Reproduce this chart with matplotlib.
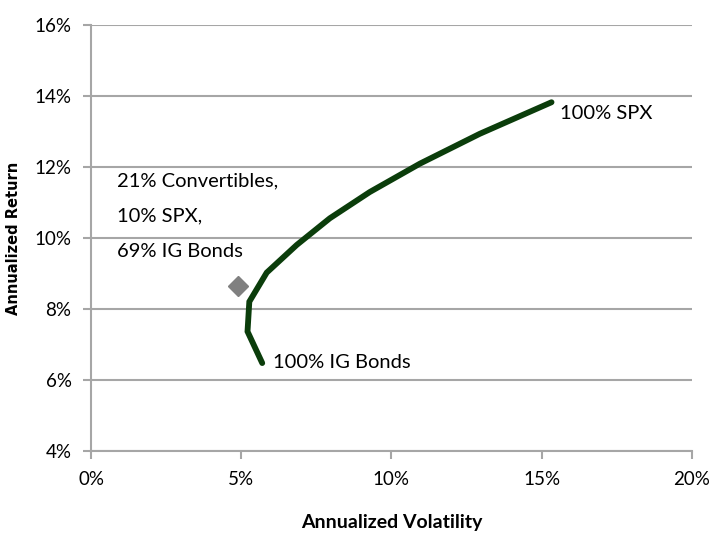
import matplotlib
matplotlib.use("Agg")
import matplotlib.pyplot as plt
from matplotlib.ticker import FuncFormatter

# efficient frontier, SPX / IG Bonds mix (annualized %)
frontier_vol = [5.70, 5.21, 5.27, 5.85, 6.85, 7.95, 9.28, 10.95, 12.94, 15.33]
frontier_ret = [6.48, 7.37, 8.21, 9.03, 9.81, 10.56, 11.30, 12.10, 12.94, 13.83]

# convertibles portfolio
conv_vol = [4.90]
conv_ret = [8.64]

x_ticks = [0, 5, 10, 15, 20]
y_ticks = [4, 6, 8, 10, 12, 14, 16]

plt.rcParams['font.family'] = ['Lato', 'DejaVu Sans']

fig = plt.figure(figsize=(7.11, 5.37), dpi=100)
ax = fig.add_axes([0.128, 0.160, 0.845, 0.793])

grid_col = '#a6a6a6'
ax.set_xlim(0, 20)
ax.set_ylim(4, 16)
ax.set_xticks(x_ticks)
ax.set_yticks(y_ticks)
ax.yaxis.grid(True, color=grid_col, linewidth=1.5)
ax.set_axisbelow(True)
pct = FuncFormatter(lambda v, p: '%d%%' % v)
ax.xaxis.set_major_formatter(pct)
ax.yaxis.set_major_formatter(pct)

for s in ['top', 'right']:
    ax.spines[s].set_visible(False)
for s in ['left', 'bottom']:
    ax.spines[s].set_color(grid_col)
    ax.spines[s].set_linewidth(1.5)
ax.tick_params(axis='both', color=grid_col, width=1.5, length=6, direction='out',
               labelsize=13.5, pad=8)

ax.plot(frontier_vol, frontier_ret, color='#0b3d0b', linewidth=4.2,
        solid_capstyle='round', solid_joinstyle='miter')
ax.plot(conv_vol, conv_ret, linestyle='none', marker='D', markersize=10.5,
        color='#808080')

ax.text(15.6, 13.5, '100% SPX', fontsize=14.5, va='center', ha='left')
ax.text(6.05, 6.5, '100% IG Bonds', fontsize=14.5, va='center', ha='left')
ax.text(0.87, 11.85, '21% Convertibles,\n10% SPX,\n69% IG Bonds', fontsize=14.5,
        va='top', ha='left', linespacing=2.3)

ax.set_xlabel('Annualized Volatility', fontsize=14, fontweight='bold', labelpad=19)
ax.set_ylabel('Annualized Return', fontsize=10.5, fontweight='bold',
              family='DejaVu Sans', labelpad=10)

fig.savefig('out.png', dpi=100)
